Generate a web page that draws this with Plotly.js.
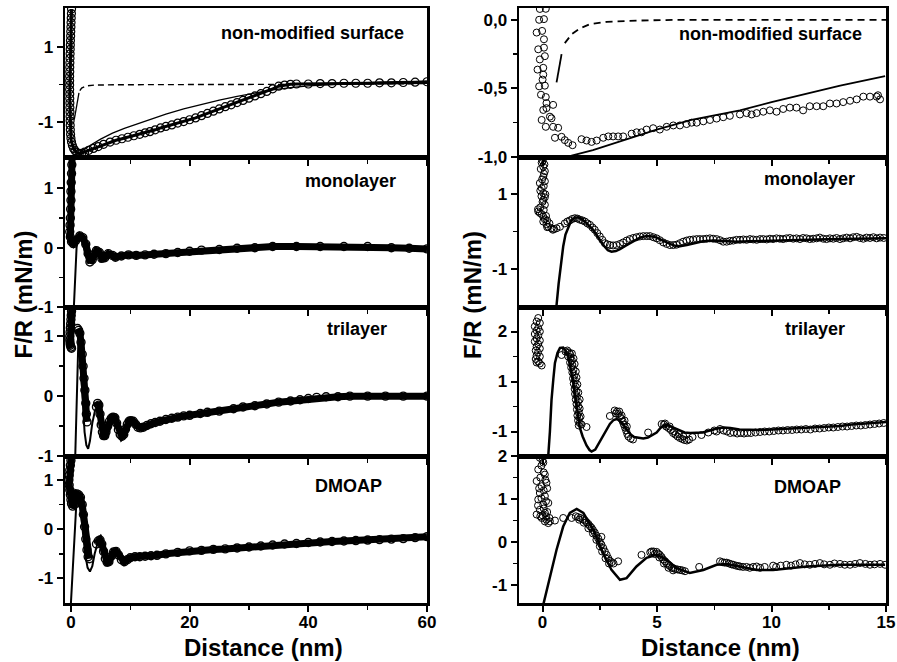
<!DOCTYPE html>
<html><head><meta charset="utf-8">
<script src="https://cdn.plot.ly/plotly-3.0.1.min.js"></script>
<style>html,body{margin:0;padding:0;background:#fff}#plot{width:897px;height:662px}</style>
</head><body><div id="plot"></div>
<script>
// ---------- DATA (distance nm, F/R mN/m) ----------
// Left column (0-60 nm)
const L1_data = [[0.10,2.02],[0.08,1.90],[0.05,1.78],[0.02,1.66],[0.00,1.54],[-0.03,1.42],[-0.05,1.30],[-0.08,1.18],[-0.10,1.06],[-0.12,0.94],[-0.14,0.82],[-0.16,0.70],[-0.18,0.58],[-0.20,0.46],[-0.20,0.34],[-0.22,0.22],[-0.22,0.10],[-0.22,-0.02],[-0.22,-0.14],[-0.20,-0.26],[-0.20,-0.38],[-0.18,-0.50],[-0.18,-0.62],[-0.16,-0.74],[-0.15,-0.86],[-0.14,-0.98],[-0.12,-1.10],[-0.10,-1.22],[-0.06,-1.34],[0.00,-1.45],[0.10,-1.55],[0.25,-1.64],[0.45,-1.72],[0.70,-1.78],[1.00,-1.83],[1.40,-1.86],[1.80,-1.85],[2.3,-1.82],[3.0,-1.77],[3.8,-1.72],[4.6,-1.67],[5.5,-1.61],[6.6,-1.55],[7.6,-1.50],[8.6,-1.46],[9.6,-1.42],[10.6,-1.38],[11.6,-1.34],[12.5,-1.30],[13.3,-1.27],[14.2,-1.22],[15.1,-1.17],[16,-1.13],[17,-1.09],[18,-1.04],[19,-1.00],[20,-0.95],[21,-0.90],[22,-0.84],[23,-0.78],[24,-0.72],[25,-0.66],[26,-0.60],[27,-0.55],[28,-0.49],[29,-0.43],[30,-0.37],[31,-0.31],[32,-0.25],[33,-0.19],[34,-0.12],[35,-0.05],[36,-0.02],[37,0.00],[38,0.01],[40,0.01],[42,0.02],[44,0.02],[46,0.03],[48,0.03],[50,0.03],[52,0.04],[54,0.04],[56,0.05],[58,0.06],[60,0.07]];
const L1_fit = [[1.4,-1.84],[3,-1.66],[5,-1.47],[7,-1.31],[9,-1.18],[11,-1.07],[13,-0.96],[16,-0.80],[19,-0.66],[22,-0.53],[25,-0.42],[28,-0.32],[31,-0.23],[34,-0.15],[37,-0.09],[40,-0.04],[45,0.0],[52,0.02],[60,0.03]];
const L1_vdwStart = [[0.56,-0.95],[1.35,-0.23]];
const L1_vdw = [[1.5,-0.17],[1.8,-0.10],[2.6,-0.04],[4,-0.02],[8,-0.01],[20,-0.01],[35,0.0],[60,0.02]];

const L2_data = [[0.2,1.55],[0.15,1.40],[0.1,1.25],[0.05,1.10],[0.0,0.95],[0.0,0.80],[-0.05,0.65],[-0.1,0.50],[-0.15,0.38],[-0.2,0.27],[-0.1,0.18],[0.1,0.10],[0.4,0.07],[0.8,0.12],[1.5,0.20],[2.0,0.17],[2.5,0.06],[2.9,-0.10],[3.2,-0.24],[3.6,-0.20],[4.3,-0.05],[4.8,-0.08],[5.2,-0.18],[5.7,-0.17],[6.3,-0.10],[7.0,-0.13],[7.5,-0.16],[8.5,-0.14],[9.7,-0.12],[11,-0.13],[12.5,-0.12],[14,-0.11],[16,-0.10],[18,-0.08],[20,-0.06],[22,-0.04],[25,-0.03],[28,-0.01],[31,0.00],[34,0.02],[38,0.02],[42,0.02],[46,0.02],[50,0.02],[54,0.00],[57,-0.01],[60,-0.02]];
const L2_fit = [[0.45,-1.1],[0.7,-0.5],[0.95,0.0],[1.2,0.17],[1.5,0.2],[1.9,0.12],[2.4,-0.10],[2.9,-0.26],[3.3,-0.24],[3.8,-0.10],[4.3,-0.06],[4.9,-0.15],[5.4,-0.2],[6.0,-0.14],[6.6,-0.12],[7.3,-0.16],[8,-0.15],[10,-0.12],[15,-0.10],[20,-0.06],[25,-0.03],[30,-0.01],[35,0.01],[40,0.01],[50,0.01],[60,0.0]];

const L3_wall = [[0.15,1.49],[0.1,1.42],[0.05,1.35],[0.0,1.28],[-0.05,1.21],[-0.1,1.14],[-0.15,1.07],[-0.2,1.0],[-0.2,0.94],[-0.15,0.89],[-0.1,0.85],[0.0,0.82],[0.1,0.80]];
const L3_band = [[1.1,1.13],[1.3,1.10],[1.5,1.05],[1.7,0.90],[1.9,0.70],[2.05,0.50],[2.2,0.30],[2.35,0.10],[2.5,-0.12],[2.6,-0.30],[2.7,-0.43]];
const L3_data = [[4.3,-0.18],[4.5,-0.12],[4.7,-0.15],[4.9,-0.30],[5.1,-0.48],[5.3,-0.60],[5.5,-0.66],[5.7,-0.66],[5.9,-0.60],[6.2,-0.50],[6.5,-0.42],[6.8,-0.37],[7.1,-0.35],[7.4,-0.36],[7.7,-0.45],[8.0,-0.56],[8.3,-0.64],[8.6,-0.67],[8.9,-0.64],[9.2,-0.55],[9.5,-0.47],[9.8,-0.42],[10.1,-0.41],[10.5,-0.42],[10.9,-0.47],[11.3,-0.52],[11.7,-0.53],[12.2,-0.52],[12.8,-0.49],[13.5,-0.46],[14.2,-0.44],[15,-0.42],[16,-0.39],[17,-0.37],[18,-0.35],[19,-0.33],[20,-0.32],[21.8,-0.29],[23,-0.27],[25,-0.25],[27.4,-0.21],[29,-0.18],[31,-0.16],[33,-0.13],[35,-0.10],[37,-0.08],[38.6,-0.06],[40,-0.04],[41.4,-0.02],[43,-0.01],[45,-0.01],[47,0.0],[50,0.0],[53,0.0],[56,0.0],[60,0.0]];
const L3_fit = [[0.7,-1.1],[0.9,-0.3],[1.05,0.5],[1.2,1.08],[1.3,1.1],[1.45,0.85],[1.7,0.35],[2.0,-0.2],[2.3,-0.6],[2.6,-0.82],[2.9,-0.88],[3.2,-0.75],[3.6,-0.45],[4.1,-0.22],[4.5,-0.2],[5.0,-0.42],[5.5,-0.63],[5.9,-0.62],[6.4,-0.45],[7.0,-0.36],[7.5,-0.38],[8.0,-0.52],[8.6,-0.64],[9.2,-0.56],[9.8,-0.44],[10.5,-0.41],[11.2,-0.47],[11.9,-0.52],[12.8,-0.5],[14,-0.45],[16,-0.4],[20,-0.33],[25,-0.25],[30,-0.17],[35,-0.11],[40,-0.06],[45,-0.03],[50,-0.02],[55,-0.01],[60,0.0]];

const L4_data = [[0.1,1.49],[0.0,1.40],[-0.1,1.30],[-0.2,1.20],[-0.3,1.10],[-0.35,1.00],[-0.3,0.90],[-0.2,0.80],[-0.1,0.70],[0.0,0.60],[0.1,0.52],[0.3,0.47],[0.55,0.50],[0.8,0.62],[1.0,0.72],[1.3,0.70],[1.6,0.65],[1.9,0.50],[2.1,0.30],[2.3,0.05],[2.5,-0.20],[2.7,-0.42],[2.9,-0.56],[3.1,-0.60]];
const L4_tail = [[4.3,-0.30],[4.6,-0.24],[4.9,-0.22],[5.2,-0.30],[5.5,-0.45],[5.8,-0.60],[6.1,-0.67],[6.4,-0.66],[6.8,-0.55],[7.2,-0.46],[7.6,-0.45],[8.0,-0.52],[8.5,-0.62],[9.0,-0.66],[9.5,-0.62],[10,-0.58],[10.8,-0.56],[11.6,-0.56],[12.5,-0.55],[13.5,-0.54],[14.5,-0.53],[16,-0.50],[18,-0.47],[20,-0.44],[22,-0.43],[24,-0.41],[26,-0.40],[28,-0.38],[30,-0.36],[32,-0.34],[34,-0.32],[36,-0.30],[38,-0.29],[40,-0.27],[42,-0.26],[44,-0.25],[46,-0.24],[48,-0.23],[50,-0.22],[52,-0.21],[54,-0.20],[56,-0.19],[58,-0.17],[60,-0.15]];
const L4_fit = [[0.0,-1.5],[0.3,-0.8],[0.6,-0.1],[0.9,0.5],[1.2,0.72],[1.4,0.65],[1.7,0.3],[2.0,-0.1],[2.4,-0.5],[2.8,-0.78],[3.2,-0.86],[3.6,-0.75],[4.0,-0.5],[4.5,-0.28],[4.9,-0.26],[5.4,-0.45],[6.0,-0.62],[6.5,-0.6],[7.0,-0.5],[7.5,-0.45],[8.2,-0.55],[9.0,-0.62],[10,-0.58],[11,-0.56],[13,-0.55],[16,-0.5],[20,-0.45],[25,-0.41],[30,-0.37],[35,-0.32],[40,-0.28],[45,-0.25],[50,-0.22],[55,-0.2],[60,-0.17]];

// Right column (0-15 nm)
const R1_data = [[-0.12,0.079],[0.14,0.08],[-0.15,0.0],[0.06,0.005],[-0.26,-0.093],[-0.02,-0.081],[0.06,-0.142],[-0.19,-0.215],[0.06,-0.203],[0.10,-0.265],[-0.12,-0.289],[-0.22,-0.363],[0.03,-0.35],[0.03,-0.40],[0.0,-0.436],[-0.15,-0.485],[0.10,-0.48],[-0.07,-0.546],[0.14,-0.563],[0.17,-0.607],[0.46,-0.62],[0.03,-0.657],[0.17,-0.644],[-0.04,-0.73],[0.32,-0.706],[0.39,-0.718],[0.14,-0.78],[0.46,-0.78],[0.68,-0.787],[0.54,-0.86],[0.83,-0.853],[0.97,-0.877],[1.12,-0.897],[1.31,-0.914],[1.70,-0.87],[1.92,-0.88],[2.14,-0.89],[2.36,-0.88],[2.65,-0.86],[2.87,-0.85],[3.08,-0.85],[3.30,-0.85],[3.52,-0.85],[3.89,-0.83],[4.11,-0.82],[4.32,-0.82],[4.54,-0.80],[4.83,-0.79],[5.12,-0.80],[5.42,-0.78],[5.71,-0.77],[6.00,-0.77],[6.29,-0.76],[6.51,-0.75],[6.73,-0.75],[7.02,-0.74],[7.31,-0.73],[7.60,-0.72],[7.89,-0.71],[8.18,-0.70],[8.62,-0.69],[8.91,-0.68],[9.13,-0.69],[9.35,-0.68],[9.64,-0.67],[9.93,-0.66],[10.22,-0.67],[10.51,-0.65],[10.80,-0.64],[11.09,-0.64],[11.38,-0.66],[11.67,-0.63],[11.97,-0.63],[12.26,-0.63],[12.55,-0.61],[12.84,-0.61],[13.13,-0.60],[13.43,-0.59],[13.72,-0.58],[14.01,-0.56],[14.30,-0.56],[14.59,-0.56],[14.74,-0.58],[14.65,-0.55]];
const R1_fit = [[0.9,-1.02],[1.27,-0.99],[2.2,-0.95],[3.5,-0.88],[4.98,-0.80],[6.5,-0.73],[8.62,-0.66],[10,-0.60],[11.53,-0.54],[13,-0.48],[14.96,-0.41]];
const R1_vdwStart = [[0.61,-0.456],[0.83,-0.25]];
const R1_vdw = [[0.97,-0.17],[1.27,-0.105],[1.63,-0.063],[2.07,-0.032],[2.8,-0.015],[4.3,-0.005],[6,0],[15,0]];

const R2_data = [[0.03,1.97],[0.0,1.90],[-0.04,1.85],[0.08,1.80],[0.03,1.74],[-0.08,1.68],[0.1,1.62],[0.06,1.55],[0.03,1.47],[-0.02,1.40],[0.1,1.35],[-0.12,1.30],[0.05,1.22],[-0.04,1.17],[-0.1,1.10],[0.03,1.03],[0.12,1.00],[-0.05,0.95],[0.1,0.92],[0.03,0.85],[0.0,0.80],[0.1,0.72],[-0.1,0.65],[-0.2,0.60],[0.05,0.58],[-0.19,0.54],[-0.12,0.50],[-0.04,0.47],[0.15,0.42],[0.03,0.40],[0.1,0.33],[0.2,0.30],[0.03,0.27],[0.3,0.22],[0.17,0.20],[0.2,0.12],[0.25,0.13],[0.39,0.09],[0.45,0.05],[0.5,0.07],[0.61,0.09],[0.76,0.13],[0.97,0.22],[1.08,0.27],[1.19,0.30],[1.30,0.34],[1.41,0.36],[1.52,0.35],[1.63,0.32],[1.74,0.30],[1.85,0.27],[1.96,0.22],[2.07,0.18],[2.18,0.11],[2.28,0.05],[2.39,-0.04],[2.50,-0.13],[2.61,-0.22],[2.72,-0.31],[2.83,-0.34],[2.94,-0.36],[3.08,-0.37],[3.23,-0.36],[3.38,-0.33],[3.52,-0.29],[3.67,-0.24],[3.81,-0.20],[3.96,-0.17],[4.10,-0.15],[4.25,-0.13],[4.40,-0.12],[4.55,-0.12],[4.69,-0.12],[4.84,-0.15],[4.98,-0.18],[5.12,-0.23],[5.27,-0.29],[5.42,-0.33],[5.56,-0.36],[5.71,-0.36],[5.85,-0.35],[6.00,-0.31],[6.14,-0.27],[6.29,-0.24],[6.43,-0.22],[6.58,-0.21],[6.73,-0.20],[6.87,-0.20],[7.02,-0.20],[7.16,-0.19],[7.31,-0.18],[7.45,-0.19],[7.60,-0.20],[7.75,-0.23],[7.89,-0.27],[8.04,-0.27],[8.18,-0.25],[8.33,-0.24],[8.47,-0.22],[8.62,-0.22],[8.77,-0.21],[8.91,-0.22],[9.06,-0.20],[9.20,-0.21],[9.35,-0.22],[9.50,-0.20],[9.64,-0.20],[9.79,-0.21],[9.93,-0.19],[10.07,-0.20],[10.22,-0.18],[10.36,-0.19],[10.51,-0.20],[10.65,-0.18],[10.80,-0.17],[10.95,-0.19],[11.09,-0.18],[11.24,-0.20],[11.38,-0.17],[11.53,-0.18],[11.67,-0.20],[11.82,-0.19],[11.97,-0.18],[12.11,-0.16],[12.26,-0.19],[12.40,-0.20],[12.55,-0.18],[12.70,-0.19],[12.84,-0.17],[12.99,-0.20],[13.13,-0.18],[13.28,-0.16],[13.43,-0.18],[13.57,-0.15],[13.72,-0.14],[13.86,-0.17],[14.01,-0.19],[14.15,-0.16],[14.30,-0.17],[14.45,-0.15],[14.59,-0.18],[14.74,-0.16],[14.90,-0.17]];
const R2_fit = [[0.55,-2.1],[0.61,-1.97],[0.7,-1.4],[0.8,-0.85],[0.9,-0.4],[1.0,-0.08],[1.12,0.13],[1.25,0.3],[1.41,0.38],[1.55,0.38],[1.7,0.34],[1.9,0.24],[2.21,0.05],[2.45,-0.18],[2.65,-0.36],[2.85,-0.5],[3.01,-0.54],[3.2,-0.52],[3.38,-0.47],[3.65,-0.37],[3.96,-0.26],[4.25,-0.16],[4.54,-0.12],[4.8,-0.13],[4.98,-0.16],[5.3,-0.26],[5.56,-0.33],[5.8,-0.38],[6.0,-0.39],[6.3,-0.36],[6.6,-0.31],[7.0,-0.26],[7.5,-0.24],[8.0,-0.26],[8.5,-0.27],[9,-0.26],[10,-0.24],[11,-0.22],[12,-0.21],[13,-0.2],[14,-0.19],[15,-0.18]];

// trilayer right panel: positions on the drawn axis (tick labelled "-1" sits at 0)
const R3_data = [[-0.19,2.27],[-0.26,2.20],[-0.12,2.17],[-0.34,2.10],[-0.19,2.07],[-0.26,2.02],[-0.12,2.00],[-0.34,1.95],[-0.19,1.92],[-0.26,1.86],[-0.12,1.82],[-0.34,1.80],[-0.19,1.75],[-0.26,1.70],[-0.12,1.66],[-0.30,1.62],[-0.20,1.58],[-0.26,1.52],[-0.12,1.50],[-0.30,1.45],[-0.19,1.40],[-0.26,1.38],[-0.12,1.36],[-0.04,1.32],[0.83,1.53],[1.00,1.60],[1.08,1.62],[1.15,1.58],[1.20,1.55],[1.28,1.56],[1.12,1.50],[1.22,1.48],[1.35,1.46],[1.28,1.42],[1.20,1.38],[1.30,1.33],[1.40,1.35],[1.25,1.28],[1.35,1.24],[1.45,1.20],[1.30,1.18],[1.38,1.12],[1.33,1.06],[1.48,1.08],[1.42,1.02],[1.36,0.96],[1.45,0.90],[1.52,0.94],[1.40,0.85],[1.48,0.80],[1.42,0.75],[1.56,0.78],[1.50,0.70],[1.45,0.64],[1.55,0.60],[1.62,0.64],[1.48,0.55],[1.56,0.50],[1.50,0.44],[1.62,0.46],[1.58,0.38],[1.52,0.32],[1.60,0.28],[1.66,0.30],[1.55,0.22],[1.62,0.17],[1.58,0.12],[1.70,0.14],[1.92,0.09],[2.94,0.31],[3.15,0.42],[3.25,0.40],[3.20,0.36],[3.35,0.40],[3.30,0.35],[3.38,0.30],[3.45,0.32],[3.45,0.25],[3.50,0.20],[3.58,0.22],[3.55,0.14],[3.60,0.08],[3.68,0.10],[3.65,0.02],[3.70,-0.05],[3.75,-0.10],[3.85,-0.14],[3.95,-0.16],[4.61,-0.02],[5.20,0.15],[5.30,0.14],[5.35,0.16],[5.40,0.10],[5.50,0.07],[5.55,0.10],[5.60,0.03],[5.70,-0.03],[5.75,0.00],[5.80,-0.06],[5.90,-0.10],[5.95,-0.05],[6.00,-0.13],[6.10,-0.15],[6.15,-0.10],[6.20,-0.17],[6.30,-0.18],[6.40,-0.16],[6.55,-0.11],[6.94,-0.07],[7.24,-0.02],[7.50,0.02],[7.60,0.00],[7.75,0.05],[7.90,0.02],[8.05,0.00],[8.20,-0.03],[8.35,-0.02],[8.50,-0.04],[8.65,-0.03],[8.80,-0.04],[8.95,-0.03],[9.10,-0.03],[9.30,-0.02],[9.50,-0.01],[9.70,0.00],[9.90,0.00],[10.10,0.01],[10.30,0.02],[10.50,0.02],[10.70,0.03],[10.90,0.03],[11.10,0.04],[11.30,0.04],[11.50,0.05],[11.70,0.04],[11.90,0.06],[12.10,0.06],[12.30,0.07],[12.50,0.08],[12.70,0.08],[12.90,0.09],[13.10,0.10],[13.30,0.10],[13.50,0.11],[13.70,0.12],[13.90,0.12],[14.10,0.13],[14.30,0.14],[14.50,0.15],[14.70,0.16],[14.90,0.17]];
const R3_fit = [[0.2,-0.6],[0.25,-0.47],[0.32,0.0],[0.39,0.63],[0.47,1.05],[0.54,1.37],[0.65,1.57],[0.76,1.67],[0.9,1.68],[1.0,1.62],[1.12,1.5],[1.25,1.2],[1.34,0.97],[1.45,0.62],[1.55,0.3],[1.63,0.07],[1.75,-0.1],[1.92,-0.28],[2.05,-0.37],[2.14,-0.4],[2.3,-0.36],[2.45,-0.24],[2.65,-0.07],[2.8,0.06],[2.94,0.15],[3.1,0.23],[3.23,0.25],[3.35,0.22],[3.52,0.15],[3.7,0.02],[3.85,-0.06],[4.0,-0.11],[4.2,-0.13],[4.4,-0.14],[4.6,-0.12],[4.8,-0.07],[4.98,-0.02],[5.15,0.07],[5.3,0.12],[5.45,0.13],[5.6,0.1],[5.8,0.05],[6.0,0.01],[6.2,-0.02],[6.45,-0.03],[6.7,-0.03],[7.0,-0.02],[7.3,0.02],[7.6,0.06],[7.9,0.08],[8.2,0.07],[8.6,0.04],[9.0,0.03],[9.5,0.03],[10,0.04],[10.5,0.05],[11,0.06],[11.5,0.07],[12,0.09],[12.5,0.1],[13,0.11],[13.5,0.14],[14,0.16],[14.5,0.17],[15,0.19]];

const R4_data = [[-0.12,1.96],[0.0,1.90],[0.03,1.85],[-0.05,1.78],[-0.19,1.69],[0.05,1.62],[0.10,1.57],[-0.10,1.50],[0.12,1.45],[-0.26,1.42],[0.17,1.38],[-0.04,1.30],[-0.15,1.25],[0.20,1.25],[0.05,1.20],[-0.12,1.14],[0.10,1.07],[-0.05,1.02],[-0.19,0.99],[0.15,0.95],[0.25,0.91],[0.03,0.87],[-0.20,0.85],[0.05,0.78],[-0.12,0.75],[0.20,0.70],[0.10,0.68],[-0.26,0.64],[0.00,0.62],[-0.10,0.60],[0.15,0.60],[-0.04,0.56],[0.30,0.56],[0.17,0.52],[0.10,0.48],[0.32,0.48],[0.25,0.44],[0.54,0.50],[0.90,0.56],[1.27,0.56],[1.45,0.60],[1.55,0.58],[1.60,0.52],[1.65,0.56],[1.75,0.53],[1.80,0.45],[1.85,0.50],[1.92,0.46],[2.00,0.42],[2.00,0.32],[2.07,0.37],[2.14,0.33],[2.20,0.28],[2.20,0.20],[2.28,0.22],[2.35,0.15],[2.35,0.05],[2.43,0.08],[2.50,0.00],[2.50,-0.10],[2.57,0.12],[2.57,-0.06],[2.60,-0.22],[2.65,-0.14],[2.72,-0.22],[2.75,-0.38],[2.80,-0.30],[2.87,-0.38],[2.90,-0.50],[2.94,-0.44],[3.02,-0.47],[3.10,-0.50],[3.30,-0.45],[4.32,-0.30],[4.70,-0.24],[4.76,-0.22],[4.85,-0.22],[4.90,-0.28],[4.98,-0.23],[5.05,-0.27],[5.10,-0.36],[5.12,-0.30],[5.20,-0.35],[5.27,-0.41],[5.30,-0.50],[5.35,-0.45],[5.42,-0.50],[5.49,-0.53],[5.50,-0.60],[5.56,-0.56],[5.65,-0.60],[5.70,-0.66],[5.71,-0.61],[5.80,-0.63],[5.90,-0.64],[6.00,-0.65],[6.10,-0.66],[6.22,-0.68],[6.84,-0.58],[7.75,-0.45],[7.85,-0.47],[7.95,-0.48],[8.04,-0.48],[8.15,-0.50],[8.25,-0.52],[8.33,-0.53],[8.45,-0.55],[8.55,-0.56],[8.62,-0.57],[8.75,-0.58],[8.91,-0.58],[9.05,-0.60],[9.20,-0.58],[9.35,-0.57],[9.50,-0.60],[9.70,-0.58],[10.07,-0.55],[10.20,-0.58],[10.40,-0.55],[10.65,-0.53],[10.85,-0.55],[11.05,-0.52],[11.24,-0.49],[11.45,-0.52],[11.67,-0.53],[11.90,-0.51],[12.11,-0.49],[12.30,-0.52],[12.55,-0.53],[12.75,-0.50],[12.99,-0.51],[13.20,-0.53],[13.43,-0.53],[13.65,-0.51],[13.86,-0.49],[14.10,-0.51],[14.30,-0.53],[14.50,-0.52],[14.74,-0.51],[14.96,-0.53]];
const R4_fit = [[0.03,-1.46],[0.32,-0.8],[0.61,-0.18],[0.9,0.36],[1.19,0.68],[1.49,0.77],[1.78,0.68],[2.21,0.29],[2.65,-0.26],[3.01,-0.65],[3.38,-0.88],[3.67,-0.84],[4.1,-0.57],[4.54,-0.37],[4.98,-0.3],[5.42,-0.41],[5.85,-0.61],[6.43,-0.72],[7.02,-0.65],[7.6,-0.53],[8.04,-0.51],[8.62,-0.57],[9.35,-0.65],[10.07,-0.65],[10.8,-0.61],[11.53,-0.57],[12.99,-0.53],[14.96,-0.53]];

// ---------- TICKS / LABELS ----------
const leftXTicks = [0,20,40,60], leftXMinor = [10,30,50];
const rightXTicks = [0,5,10,15], rightXMinor = [2.5,7.5,12.5];
const yTickVals = [[1,-1],[0,-0.5,-1],[1,0,-1],[1,-1],[1,0,-1],[2,1,0],[1,0,-1],[2,1,0,-1]];
const yTickText = [['1','-1'],['0,0','-0,5','-1,0'],['1','0','-1'],['1','-1'],['1','0','-1'],['2','1','-1'],['1','0','-1'],['2','1','0','-1']];
const yMinor = [[0],[-0.25,-0.75],[0.5,-0.5],[0],[0.5,-0.5],[1.5,0.5],[0.5,-0.5],[1.5,0.5,-0.5]];
const yRanges = [[-1.95,2.05],[-1,0.086],[-1,1.53],[-2.02,2.0],[-1,1.49],[-0.49,2.49],[-1.5,1.49],[-1.42,2.003]];
const panelLabels = ['non-modified surface','non-modified surface','monolayer','monolayer','trilayer','trilayer','DMOAP','DMOAP'];
const xTitle = 'Distance (nm)', yTitle = 'F/R (mN/m)';

// ---------- BUILD ----------
const FONT = 'Liberation Sans, Arial, Helvetica, sans-serif';
function id(n){return n===1?'':String(n);}
function tr(pairs,n,style){return Object.assign({x:pairs.map(p=>p[0]),y:pairs.map(p=>p[1]),xaxis:'x'+id(n),yaxis:'y'+id(n),hoverinfo:'skip',showlegend:false},style);}
const openC = (s,w)=>({symbol:'circle-open',size:s,color:'#000',line:{width:w,color:'#000'}});
const bandStyle = {mode:'lines+markers',line:{color:'#000',width:7},marker:openC(8,1.4)};
const data = [];
// L1
data.push(tr(L1_data,1,{mode:'lines+markers',line:{color:'#000',width:3},marker:openC(8,1.2)}));
data.push(tr(L1_fit,1,{mode:'lines',line:{color:'#000',width:1.3}}));
data.push(tr(L1_vdwStart,1,{mode:'lines',line:{color:'#000',width:1.3}}));
data.push(tr(L1_vdw,1,{mode:'lines',line:{color:'#000',width:1.4,dash:'6px,4px'}}));
// R1
data.push(tr(R1_data,2,{mode:'markers',marker:openC(7,1)}));
data.push(tr(R1_fit,2,{mode:'lines',line:{color:'#000',width:1.8}}));
data.push(tr(R1_vdwStart,2,{mode:'lines',line:{color:'#000',width:1.8}}));
data.push(tr(R1_vdw,2,{mode:'lines',line:{color:'#000',width:1.8,dash:'7px,5px'}}));
// L2
data.push(tr(L2_data,3,bandStyle));
data.push(tr(L2_fit,3,{mode:'lines',line:{color:'#000',width:2}}));
// R2
data.push(tr(R2_data,4,{mode:'markers',marker:openC(7,1)}));
data.push(tr(R2_fit,4,{mode:'lines',line:{color:'#000',width:2.5}}));
// L3
data.push(tr(L3_wall,5,bandStyle));
data.push(tr(L3_band,5,bandStyle));
data.push(tr(L3_data,5,bandStyle));
data.push(tr(L3_fit,5,{mode:'lines',line:{color:'#000',width:2}}));
// R3
data.push(tr(R3_data,6,{mode:'markers',marker:openC(7,1)}));
data.push(tr(R3_fit,6,{mode:'lines',line:{color:'#000',width:2.5}}));
// L4
data.push(tr(L4_data,7,bandStyle));
data.push(tr(L4_tail,7,bandStyle));
data.push(tr(L4_fit,7,{mode:'lines',line:{color:'#000',width:2}}));
// R4
data.push(tr(R4_data,8,{mode:'markers',marker:openC(7,1)}));
data.push(tr(R4_fit,8,{mode:'lines',line:{color:'#000',width:2.5}}));

const W=897,H=662;
const colX = [[65/W,427/W],[519/W,886/W]];
const rowY = [[1-157/H,1-8/H],[1-307/H,1-157/H],[1-456/H,1-307/H],[1-603/H,1-456/H]];
const tickFont = {family:FONT,size:17,color:'#000',weight:'bold'};
const layout = {width:W,height:H,margin:{l:0,r:0,t:0,b:0},paper_bgcolor:'#fff',plot_bgcolor:'rgba(0,0,0,0)',showlegend:false,annotations:[]};
for(let i=0;i<8;i++){
  const n=i+1, col=i%2, row=Math.floor(i/2);
  const xr = col===0?[-1,60]:[-1.03,15];
  const xt = col===0?leftXTicks:rightXTicks, xm = col===0?leftXMinor:rightXMinor;
  const common = {showgrid:false,zeroline:false,fixedrange:true,tickcolor:'#000',tickwidth:2,ticklen:6,tickfont:tickFont};
  layout['xaxis'+id(n)] = Object.assign({},common,{domain:colX[col],anchor:'y'+id(n),range:xr,autorange:false,
    tickmode:'array',tickvals:xt,ticktext:xt.map(String),ticks:'outside',showticklabels:row===3,ticklabelstandoff:-4,
    showline:true,linecolor:'#000',linewidth:2.5,mirror:true,
    minor:{tickmode:'array',tickvals:xm,ticks:'outside',ticklen:4,tickwidth:1.5,tickcolor:'#000'}});
  layout['yaxis'+id(n)] = Object.assign({},common,{domain:rowY[row],anchor:'x'+id(n),range:yRanges[i],autorange:false,
    tickmode:'array',tickvals:yTickVals[i],ticktext:yTickText[i],ticks:'outside',
    showline:true,linecolor:'#000',linewidth:2.5,mirror:true,
    minor:{tickmode:'array',tickvals:yMinor[i],ticks:'outside',ticklen:4,tickwidth:1.5,tickcolor:'#000'}});
  // mirrored ticks pointing inward on top / right
  layout['xaxis'+(n+8)] = Object.assign({},common,{overlaying:'x'+id(n),anchor:'y'+id(n),side:'top',range:xr,autorange:false,
    tickmode:'array',tickvals:xt,ticks:'inside',showticklabels:false,showline:false,
    minor:{tickmode:'array',tickvals:xm,ticks:'inside',ticklen:4,tickwidth:1.5,tickcolor:'#000'}});
  layout['yaxis'+(n+8)] = Object.assign({},common,{overlaying:'y'+id(n),anchor:'x'+id(n),side:'right',range:yRanges[i],autorange:false,
    tickmode:'array',tickvals:yTickVals[i],ticks:'inside',showticklabels:false,showline:false,
    minor:{tickmode:'array',tickvals:yMinor[i],ticks:'inside',ticklen:4,tickwidth:1.5,tickcolor:'#000'}});
}
const labelPos = [[406,33],[864,34],[398,181],[857,179],[389,329],[847,329],[384,486],[843,487]];
labelPos.forEach((p,i)=>layout.annotations.push({xref:'paper',yref:'paper',x:p[0]/W,y:1-p[1]/H,xanchor:'right',yanchor:'middle',showarrow:false,text:panelLabels[i],font:{family:FONT,size:18,color:'#000',weight:'bold'}}));
[[263,647],[720,647]].forEach(p=>layout.annotations.push({xref:'paper',yref:'paper',x:p[0]/W,y:1-p[1]/H,xanchor:'center',yanchor:'middle',showarrow:false,text:xTitle,borderpad:0,font:{family:FONT,size:24,color:'#000',weight:'bold'}}));
[[22.5,295],[472,295]].forEach(p=>layout.annotations.push({xref:'paper',yref:'paper',x:p[0]/W,y:1-p[1]/H,xanchor:'center',yanchor:'middle',textangle:-90,showarrow:false,text:yTitle,font:{family:FONT,size:24,color:'#000',weight:'bold'}}));

Plotly.newPlot('plot',data,layout,{staticPlot:true,displayModeBar:false});
</script></body></html>
